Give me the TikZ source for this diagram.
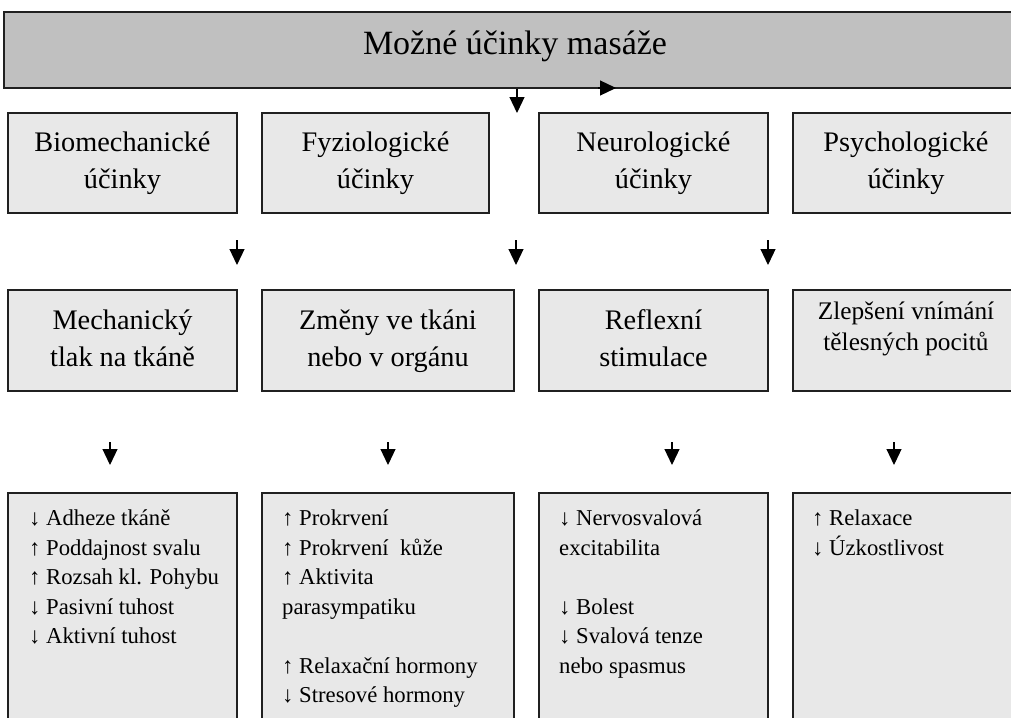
\documentclass[tikz,border=0pt]{standalone}
\usepackage{fontspec}
\setmainfont{Liberation Serif}
\usetikzlibrary{arrows.meta}
\definecolor{hdrfill}{HTML}{C0C0C0}
\definecolor{boxfill}{HTML}{E8E8E8}
\definecolor{edgecol}{HTML}{202020}
\begin{document}
\begin{tikzpicture}[x=1pt,y=-1pt,
  frame/.style={draw=edgecol,line width=1.6pt,fill=boxfill,inner sep=0pt,align=center},
  hdrbox/.style={frame,fill=hdrfill},
  midbox/.style={frame,minimum height=100pt,font=\fontsize{28.3}{37}\selectfont},
  listbox/.style={frame,minimum height=267pt},
  hdrtext/.style={inner sep=0pt,font=\fontsize{34}{40}\selectfont},
  midtext/.style={inner sep=0pt,align=center,font=\fontsize{28.3}{37}\selectfont},
  listtext/.style={anchor=north west,inner sep=0pt,align=left,font=\fontsize{22.7}{29.5}\selectfont},
  smalltext/.style={inner sep=0pt,align=center,font=\fontsize{25.3}{31}\selectfont},
  arr/.style={line width=1.2pt,-{Triangle[width=15pt,length=16pt]}}
]
\useasboundingbox (0,0) rectangle (1011,717);
\clip (0,0) rectangle (1011,717);
\fill[white] (0,0) rectangle (1011,717);

% header
\node[hdrbox,minimum width=1056pt,minimum height=76pt] (hdr) at (532,50) {};
\node[hdrtext] (hdrt) at (515,47) {\strut Možné účinky masáže};

% row 2
\node[midbox,minimum width=229pt] (a1) at (122.5,163) {\strut Biomechanické\\\strut účinky};
\node[midbox,minimum width=227pt] (a2) at (375.5,163) {\strut Fyziologické\\\strut účinky};
\node[midbox,minimum width=229pt] (a3) at (653.5,163) {\strut Neurologické\\\strut účinky};
\node[midbox,minimum width=267pt] (a4) at (926.5,163) {};
\node[midtext] (a4t) at (906,163) {\strut Psychologické\\\strut účinky};

% row 3
\node[midbox,minimum width=229pt,minimum height=101pt] (b1) at (122.5,340.5) {\strut Mechanický\\\strut tlak na tkáně};
\node[midbox,minimum width=252pt,minimum height=101pt] (b2) at (388,340.5) {\strut Změny ve tkáni\\\strut nebo v orgánu};
\node[midbox,minimum width=229pt,minimum height=101pt] (b3) at (653.5,340.5) {\strut Reflexní\\\strut stimulace};
\node[midbox,minimum width=267pt,minimum height=101pt] (b4) at (926.5,340.5) {};
\node[smalltext] (b4t) at (906,329) {\strut Zlepšení vnímání\\\strut tělesných pocitů};

% row 4
\node[listbox,minimum width=229pt] (c1) at (122.5,626.5) {};
\node[listbox,minimum width=252pt] (c2) at (388,626.5) {};
\node[listbox,minimum width=229pt] (c3) at (653.5,626.5) {};
\node[listbox,minimum width=267pt] (c4) at (926.5,626.5) {};

\node[listtext] (c1t) at (29,505) {\strut ↓ Adheze tkáně\\\strut ↑ Poddajnost svalu\\\strut ↑ Rozsah kl. Pohybu\\\strut ↓ Pasivní tuhost\\\strut ↓ Aktivní tuhost};
\node[listtext] (c2t) at (282,505) {\strut ↑ Prokrvení\\\strut ↑ Prokrvení~ kůže\\\strut ↑ Aktivita\\\strut parasympatiku\\\strut \\\strut ↑ Relaxační hormony\\\strut ↓ Stresové hormony};
\node[listtext] (c3t) at (559,505) {\strut ↓ Nervosvalová\\\strut excitabilita\\\strut \\\strut ↓ Bolest\\\strut ↓ Svalová tenze\\\strut nebo spasmus};
\node[listtext] (c4t) at (812,505) {\strut ↑ Relaxace\\\strut ↓ Úzkostlivost};

% arrows
\coordinate (h1) at (517,113);
\draw[arr] (hdr.south -| h1) -- (h1);
\coordinate (r0) at (598,88);
\coordinate (r1) at (616,88);
\draw[arr] (r0) -- (r1);

\coordinate (m1s) at (237,240); \coordinate (m1e) at (237,265);
\coordinate (m2s) at (516,240); \coordinate (m2e) at (516,265);
\coordinate (m3s) at (768,240); \coordinate (m3e) at (768,265);
\draw[arr] (m1s) -- (m1e);
\draw[arr] (m2s) -- (m2e);
\draw[arr] (m3s) -- (m3e);

\coordinate (n1s) at (110,442); \coordinate (n1e) at (110,465);
\coordinate (n2s) at (388,442); \coordinate (n2e) at (388,465);
\coordinate (n3s) at (672,442); \coordinate (n3e) at (672,465);
\coordinate (n4s) at (894,442); \coordinate (n4e) at (894,465);
\draw[arr] (n1s) -- (n1e);
\draw[arr] (n2s) -- (n2e);
\draw[arr] (n3s) -- (n3e);
\draw[arr] (n4s) -- (n4e);
\end{tikzpicture}
\end{document}
